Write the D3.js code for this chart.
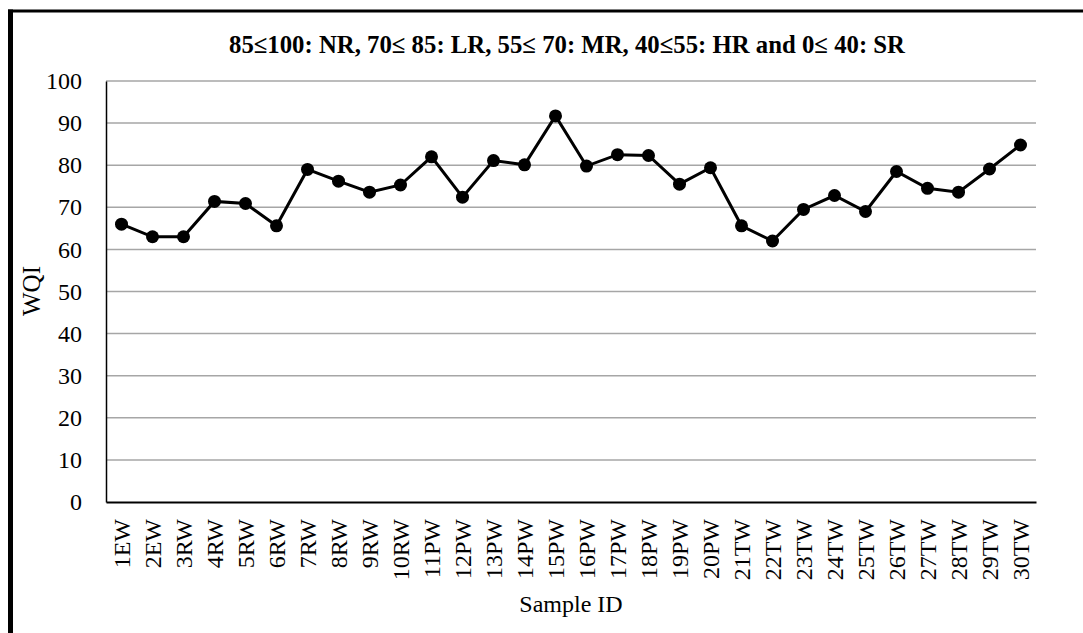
<!DOCTYPE html>
<html>
<head>
<meta charset="utf-8">
<script src="https://cdn.jsdelivr.net/npm/d3@7"></script>
<style>
  body { margin: 0; background: #fff; }
  text { font-family: "Liberation Serif", "Times New Roman", serif; fill: #000; }
</style>
</head>
<body>
<div class="canvas"></div>
<script>
// Data
const sampleIds = ['1EW', '2EW', '3RW', '4RW', '5RW', '6RW', '7RW', '8RW', '9RW', '10RW',
  '11PW', '12PW', '13PW', '14PW', '15PW', '16PW', '17PW', '18PW', '19PW', '20PW',
  '21TW', '22TW', '23TW', '24TW', '25TW', '26TW', '27TW', '28TW', '29TW', '30TW'];
const wqi = [66.0, 63.0, 63.0, 71.4, 70.9, 65.6, 79.0, 76.2, 73.6, 75.3,
  82.0, 72.4, 81.1, 80.1, 91.7, 79.8, 82.5, 82.3, 75.5, 79.4,
  65.6, 62.0, 69.5, 72.8, 69.0, 78.5, 74.5, 73.6, 79.1, 84.8];
const yTicks = [0, 10, 20, 30, 40, 50, 60, 70, 80, 90, 100];
const titleText = '85\u2264100: NR, 70\u2264 85: LR, 55\u2264 70: MR, 40\u226455: HR and 0\u2264 40: SR';

// Setup dimensions
const dims = { width: 1083, height: 633 };
const plot = { left: 106, right: 1036, top: 81, bottom: 502 };

const svg = d3.select('.canvas')
  .append('svg')
  .attr('width', dims.width)
  .attr('height', dims.height);

// outer frame (only top and left edges visible)
svg.append('line')
  .attr('x1', 8).attr('x2', dims.width)
  .attr('y1', 11).attr('y2', 11)
  .attr('stroke', '#000').attr('stroke-width', 3);
svg.append('line')
  .attr('x1', 10.5).attr('x2', 10.5)
  .attr('y1', 9.5).attr('y2', dims.height)
  .attr('stroke', '#000').attr('stroke-width', 5);

const x = d3.scaleBand()
  .domain(sampleIds)
  .range([plot.left, plot.right]);

const y = d3.scaleLinear()
  .domain([0, 100])
  .range([plot.bottom, plot.top]);

// gridlines
svg.append('g')
  .selectAll('line')
  .data(yTicks.filter(d => d > 0))
  .enter().append('line')
    .attr('x1', plot.left).attr('x2', plot.right)
    .attr('y1', d => y(d)).attr('y2', d => y(d))
    .attr('stroke', '#a6a6a6')
    .attr('stroke-width', 1.5);

// y axis
const yAxis = d3.axisLeft(y).tickValues(yTicks).tickSize(0).tickPadding(24);
svg.append('g')
  .attr('transform', `translate(${plot.left}, 0)`)
  .call(yAxis)
  .call(g => g.select('.domain').attr('stroke', '#000').attr('stroke-width', 1.5))
  .selectAll('text')
    .attr('font-size', 24)
    .attr('font-family', '"Liberation Serif", serif');

// x axis
const xAxis = d3.axisBottom(x).tickSize(0).tickPadding(0);
svg.append('g')
  .attr('transform', `translate(0, ${plot.bottom})`)
  .call(xAxis)
  .call(g => g.select('.domain').attr('stroke', '#000').attr('stroke-width', 2))
  .selectAll('text')
    .attr('font-size', 24)
    .attr('font-family', '"Liberation Serif", serif')
    .attr('text-anchor', 'end')
    .attr('dy', '0.35em')
    .attr('transform', 'translate(0, 17) rotate(-90)')
    .attr('x', 0).attr('y', 0);

// line + points
const line = d3.line()
  .x((d, i) => x(sampleIds[i]) + x.bandwidth() / 2)
  .y(d => y(d));

svg.append('path')
  .datum(wqi)
  .attr('d', line)
  .attr('fill', 'none')
  .attr('stroke', '#000')
  .attr('stroke-width', 3);

svg.append('g')
  .selectAll('circle')
  .data(wqi)
  .enter().append('circle')
    .attr('cx', (d, i) => x(sampleIds[i]) + x.bandwidth() / 2)
    .attr('cy', d => y(d))
    .attr('r', 6.5)
    .attr('fill', '#000');

// titles
svg.append('text')
  .attr('x', 567).attr('y', 53)
  .attr('text-anchor', 'middle')
  .attr('font-size', 25)
  .attr('font-weight', 'bold')
  .attr('textLength', 676)
  .attr('lengthAdjust', 'spacingAndGlyphs')
  .text(titleText);

svg.append('text')
  .attr('transform', 'translate(40, 291) rotate(-90)')
  .attr('text-anchor', 'middle')
  .attr('font-size', 25)
  .text('WQI');

svg.append('text')
  .attr('x', 571).attr('y', 612)
  .attr('text-anchor', 'middle')
  .attr('font-size', 24)
  .text('Sample ID');
</script>
</body>
</html>
